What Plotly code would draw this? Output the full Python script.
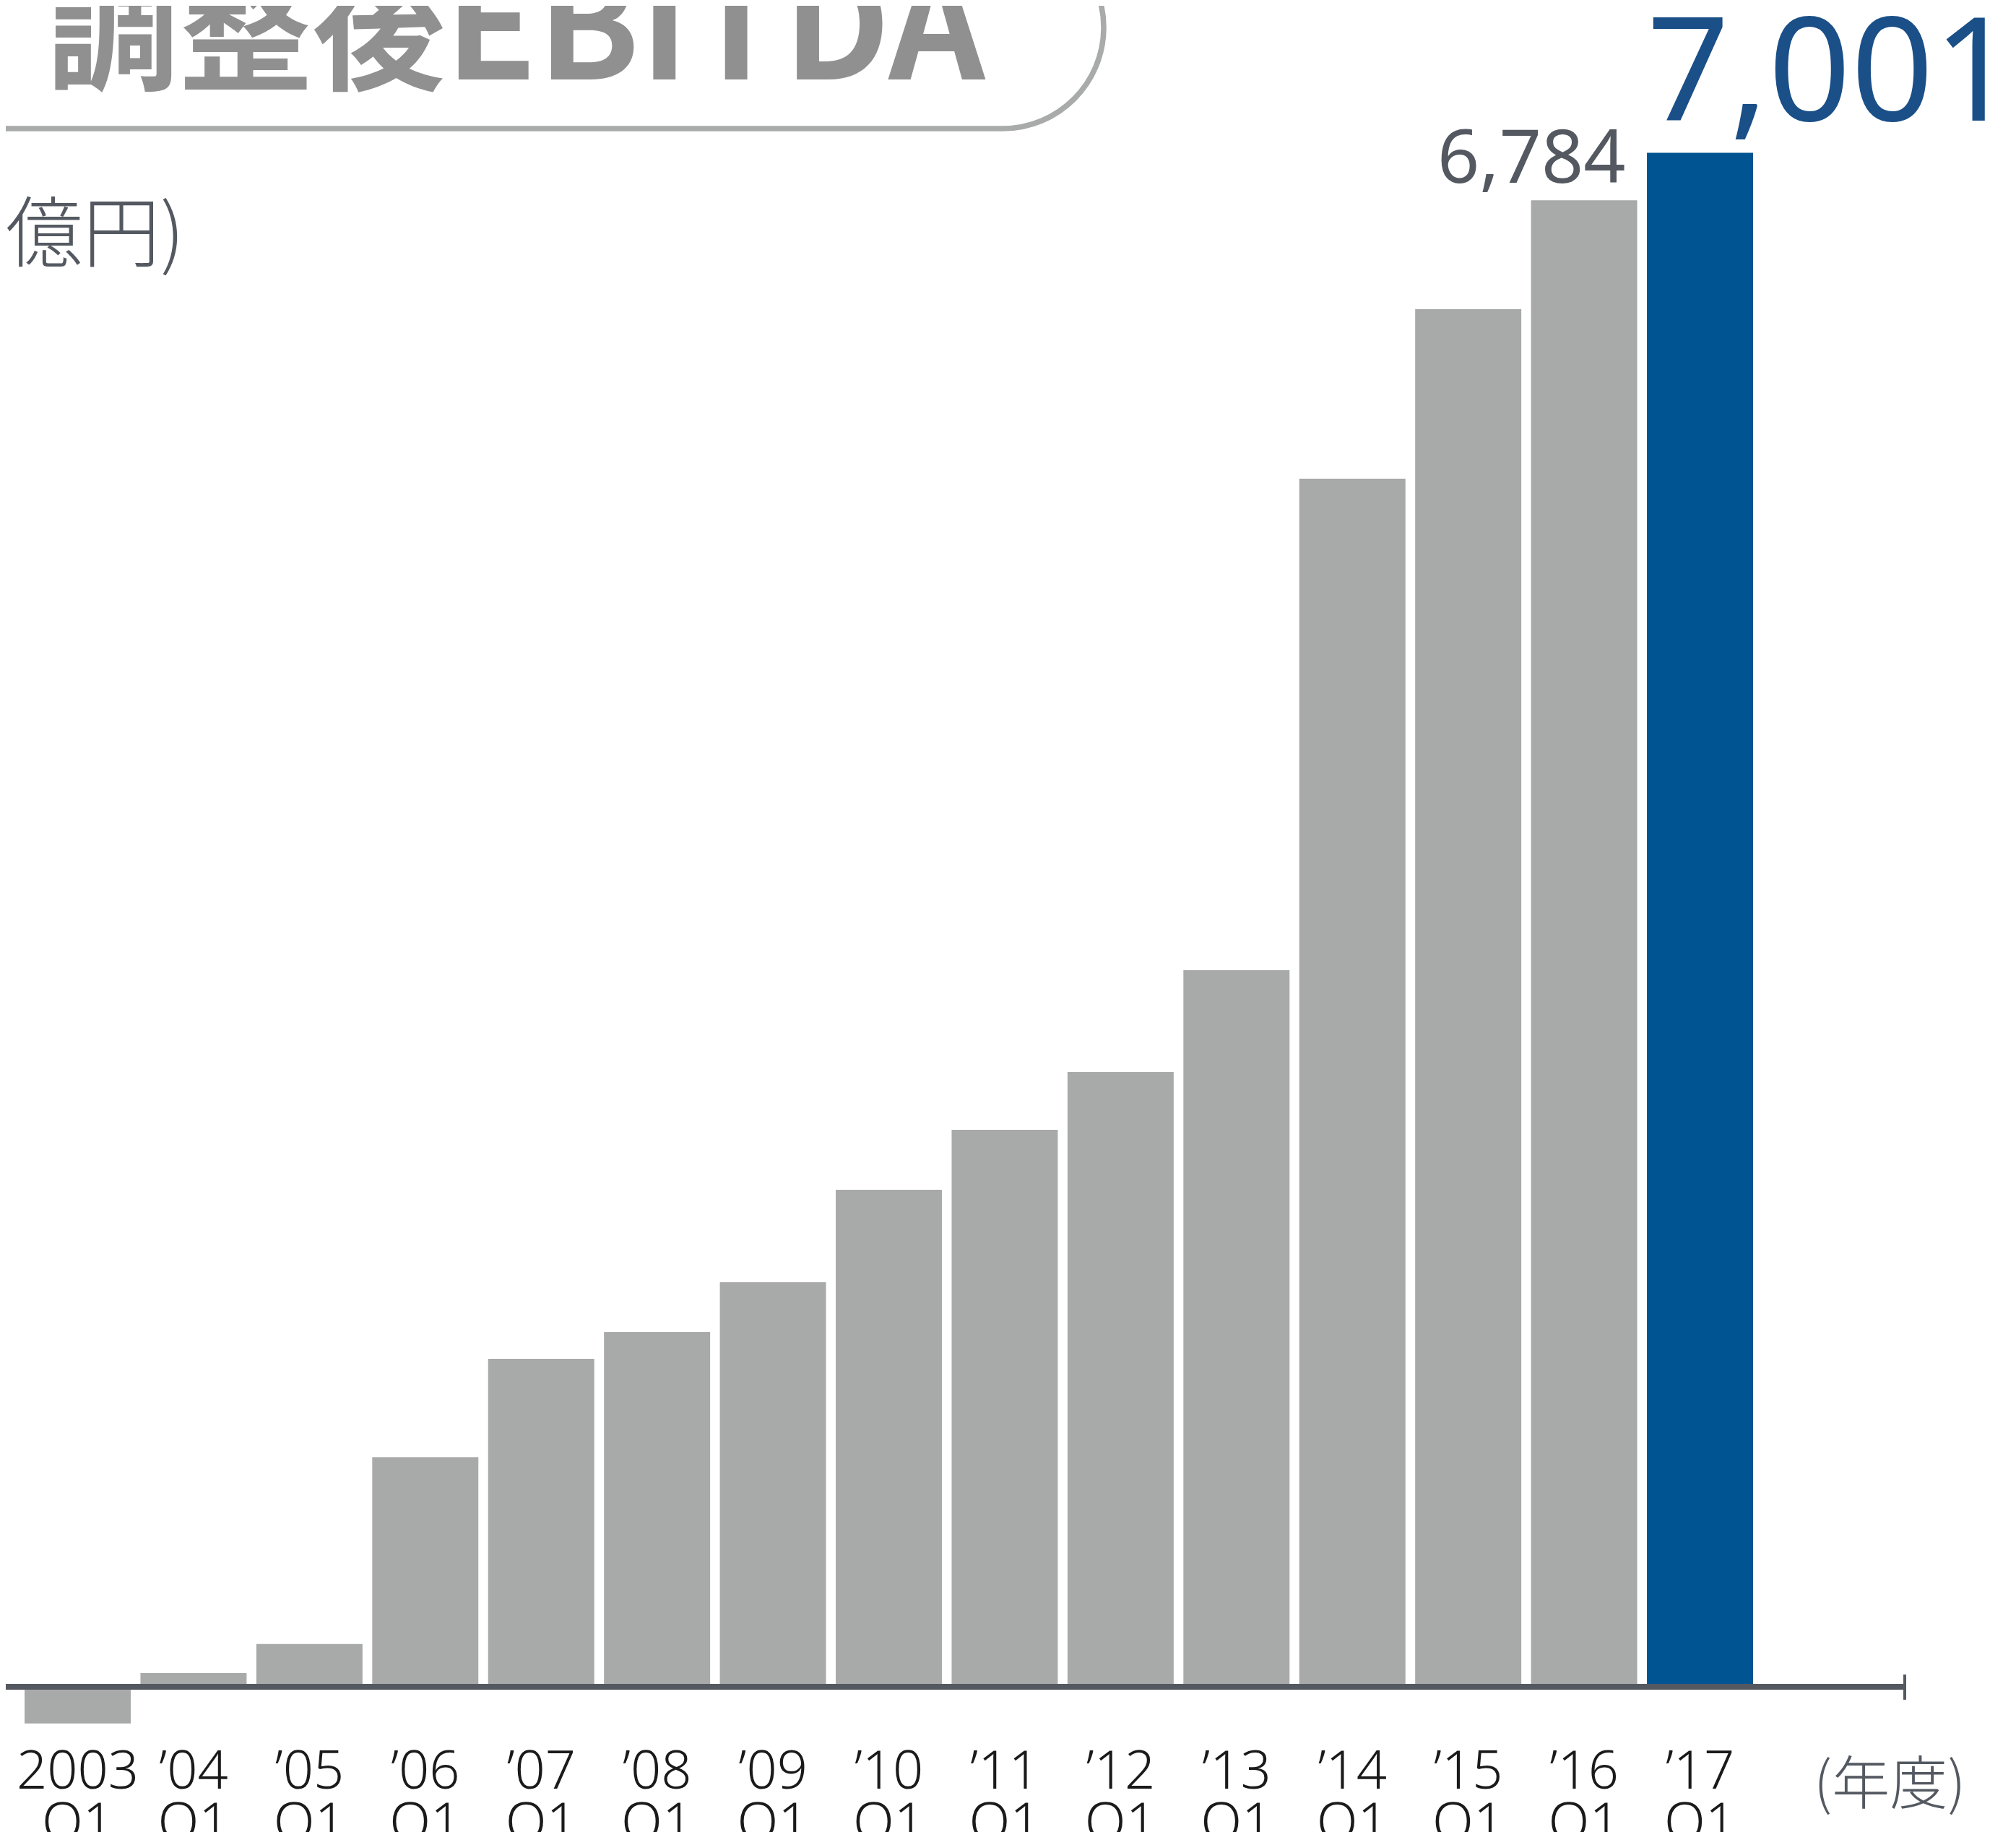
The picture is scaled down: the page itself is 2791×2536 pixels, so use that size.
import plotly.graph_objects as go

# ---------------- data ----------------
years = ["2003", "’04", "’05", "’06", "’07", "’08", "’09", "’10",
         "’11", "’12", "’13", "’14", "’15", "’16", "’17"]
quarters = ["Q1"] * 15
ebitda = [-167, 63, 195, 1048, 1497, 1619, 1846, 2268,
          2542, 2806, 3271, 5513, 6287, 6784, 7001]   # 億円

title_kanji = "調整後"
title_latin = "EBITDA"
unit_text = "(億円)"
xunit_text = "(年度)"

# ---------------- styling ----------------
W, H = 2791, 2536
OFF = 8  # page body margin in the rendered page
GRAY = "#a8a9a9"
BLUE = "#005492"
DARK = "#545961"
TITLE_GRAY = "#909090"

bar_colors = [GRAY] * (len(ebitda) - 1) + [BLUE]

def xp(px):
    return (px - OFF) / W

def yp(py):
    return 1 - (py - OFF) / H

PITCH = 160.43
FIRST = 107.5 - OFF
X_RANGE = [-FIRST / PITCH, (W - FIRST) / PITCH]
UPP = 3.297
ZERO = 2335 - OFF
BOTTOM = 2395 - OFF
Y_RANGE = [-(BOTTOM - ZERO) * UPP, ZERO * UPP]
Y_DOMAIN_BOTTOM = (H - BOTTOM) / H

fig = go.Figure()
fig.add_trace(go.Bar(
    x=years, y=ebitda,
    marker=dict(color=bar_colors, line=dict(width=0)),
    hoverinfo="skip", showlegend=False,
))
# invisible helper trace so the second (Q1) label axis is drawn
fig.add_trace(go.Scatter(x=[], y=[], xaxis="x2", yaxis="y",
                         showlegend=False, hoverinfo="skip"))

tick_font = dict(family="Noto Sans", size=74, color="#1a1a1a", weight=300)

fig.update_layout(
    width=W, height=H,
    margin=dict(l=0, r=0, t=0, b=0),
    paper_bgcolor="white", plot_bgcolor="white",
    bargap=0.084,
    xaxis=dict(
        type="category", categoryorder="array", categoryarray=years,
        range=X_RANGE, domain=[0, 1],
        showgrid=False, zeroline=False, showline=False, ticks="",
        tickfont=tick_font, ticklabelstandoff=6, automargin=False,
        fixedrange=True,
    ),
    xaxis2=dict(
        type="linear", overlaying="x", anchor="y", side="bottom",
        range=X_RANGE, domain=[0, 1],
        tickmode="array", tickvals=list(range(len(quarters))), ticktext=quarters,
        showgrid=False, zeroline=False, showline=False, ticks="",
        tickfont=tick_font, ticklabelstandoff=78, automargin=False,
        fixedrange=True,
    ),
    yaxis=dict(
        range=Y_RANGE, domain=[Y_DOMAIN_BOTTOM, 1],
        showgrid=False, zeroline=False, showline=False,
        showticklabels=False, ticks="", automargin=False, fixedrange=True,
    ),
)

shapes = []
# baseline axis line with end tick
axis_end = (2637 - OFF - FIRST) / PITCH
shapes.append(dict(type="line", xref="x", yref="y", x0=-1.5, x1=axis_end, y0=0, y1=0,
                   line=dict(color=DARK, width=8), layer="above"))
shapes.append(dict(type="line", xref="x", yref="y", x0=axis_end, x1=axis_end, y0=56, y1=-59,
                   line=dict(color=DARK, width=4), layer="above"))

# rounded title frame (pill with semicircular right end)
R = 140
cx, cy = 1388, 38
k = 0.5523 * R
pts = [
    ("M", [(-20, cy + R)]),
    ("L", [(cx, cy + R)]),
    ("C", [(cx + k, cy + R), (cx + R, cy + k), (cx + R, cy)]),
    ("C", [(cx + R, cy - k), (cx + k, cy - R), (cx, cy - R)]),
    ("L", [(-20, cy - R)]),
]
path = " ".join(cmd + " " + " ".join(f"{xp(a):.6f},{yp(b):.6f}" for a, b in p) for cmd, p in pts)
shapes.append(dict(type="path", xref="paper", yref="paper", path=path,
                   line=dict(color="#a9aaaa", width=7.5), layer="above"))
fig.update_layout(shapes=shapes)

annotations = []
# title
annotations.append(dict(
    text=f"<b>{title_kanji}<span style='font-size:208px'>{title_latin}</span></b>",
    xref="paper", yref="paper",
    x=xp(62), y=yp(172), xanchor="left", yanchor="bottom", showarrow=False,
    font=dict(family="Noto Sans CJK JP", size=184, color=TITLE_GRAY),
))
# unit label
annotations.append(dict(
    text=unit_text, xref="paper", yref="paper",
    x=xp(257), y=yp(314), xanchor="right", yanchor="middle", showarrow=False,
    font=dict(family="Noto Sans CJK JP", size=107, color=DARK, weight=300),
))
# x unit label
annotations.append(dict(
    text=xunit_text, xref="paper", yref="paper",
    x=xp(2616), y=yp(2462), xanchor="center", yanchor="middle", showarrow=False,
    font=dict(family="Noto Sans CJK JP", size=80, color=DARK, weight=300),
))
# value labels for the last two bars
annotations.append(dict(
    text=f"{ebitda[-2]:,}", xref="x", yref="y", x=years[-2], y=ebitda[-2],
    xanchor="right", yanchor="bottom", xshift=60, yshift=-8, showarrow=False,
    font=dict(family="Noto Sans", size=102, color=DARK),
))
annotations.append(dict(
    text=f"{ebitda[-1]:,}", xref="x", yref="y", x=years[-1], y=ebitda[-1],
    xanchor="left", yanchor="bottom", xshift=-76, yshift=-16, showarrow=False,
    font=dict(family="Noto Sans", size=200, color="#1a4f87"),
))
fig.update_layout(annotations=annotations)

fig.write_html("out.html", config={"displayModeBar": False})
